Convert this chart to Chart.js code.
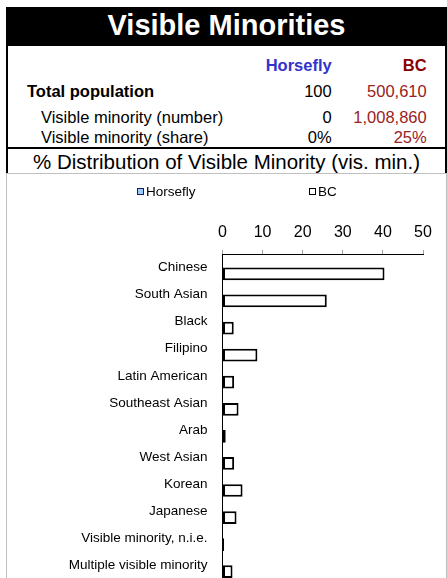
<!DOCTYPE html>
<html>
<head>
<meta charset="utf-8">
<script src="https://cdn.jsdelivr.net/npm/chart.js@4/dist/chart.umd.min.js"></script>
<style>
html,body{margin:0;padding:0;width:447px;height:578px;overflow:hidden;background:#fff;font-family:"Liberation Sans",Arial,sans-serif;}
.abs{position:absolute;white-space:nowrap;line-height:1;}
.b{font-weight:bold;}
.r{text-align:right;}
</style>
</head>
<body>
<!-- title bar -->
<div class="abs" style="left:6px;top:7px;width:441px;height:39px;background:#000;"></div>
<div class="abs b" style="left:6px;top:11.3px;width:441px;text-align:center;color:#fff;font-size:29px;">Visible Minorities</div>
<!-- table frame -->
<div class="abs" style="left:6px;top:46px;width:2px;height:127px;background:#000;"></div>
<div class="abs" style="left:445px;top:46px;width:2px;height:127px;background:#000;"></div>
<div class="abs" style="left:6px;top:147px;width:441px;height:2px;background:#000;"></div>
<!-- table text -->
<div class="abs b r" style="right:115.3px;top:57.3px;font-size:16.5px;color:#3333cc;">Horsefly</div>
<div class="abs b r" style="right:20.3px;top:57.3px;font-size:16.5px;color:#8b0000;">BC</div>

<div class="abs b" style="left:27px;top:83px;font-size:16.5px;color:#000;">Total population</div>
<div class="abs r" style="right:115.3px;top:83px;font-size:16.5px;color:#000;">100</div>
<div class="abs r" style="right:20.3px;top:83px;font-size:16.5px;color:#992222;">500,610</div>

<div class="abs" style="left:41px;top:108.5px;font-size:16.5px;color:#000;">Visible minority (number)</div>
<div class="abs r" style="right:115.3px;top:108.5px;font-size:16.5px;color:#000;">0</div>
<div class="abs r" style="right:20.3px;top:108.5px;font-size:16.5px;color:#992222;">1,008,860</div>

<div class="abs" style="left:41px;top:129.3px;font-size:16.5px;color:#000;">Visible minority (share)</div>
<div class="abs r" style="right:115.3px;top:129.3px;font-size:16.5px;color:#000;">0%</div>
<div class="abs r" style="right:20.3px;top:129.3px;font-size:16.5px;color:#992222;">25%</div>

<div class="abs" style="left:6px;top:152.3px;width:441px;text-align:center;font-size:20.5px;color:#000;">% Distribution of Visible Minority (vis. min.)</div>

<!-- chart box -->
<div class="abs" style="left:6px;top:173px;width:439px;height:440px;border:1px solid #c0c0c0;">
  <canvas id="c" width="439" height="428" style="position:absolute;left:0;top:0;width:439px;height:428px;"></canvas>
</div>

<script>
const categories = ['Chinese','South Asian','Black','Filipino','Latin American','Southeast Asian','Arab','West Asian','Korean','Japanese','Visible minority, n.i.e.','Multiple visible minority'];
const horseflyValues = [0,0,0,0,0,0,0,0,0,0,0,0];
const bcValues = [40.4,26.0,2.8,8.7,2.9,4.0,0.8,2.9,5.0,3.5,0.4,2.5];
const seriesNames = ['Horsefly','BC'];
const xTicks = [0,10,20,30,40,50];

const FONT = '"Liberation Sans", Arial, sans-serif';

const manualLegend = {
  id: 'manualLegend',
  afterDraw(chart, args, opts) {
    const ctx = chart.ctx;
    ctx.save();
    ctx.font = '13.5px ' + FONT;
    ctx.textBaseline = 'middle';
    ctx.textAlign = 'left';
    chart.data.datasets.forEach((ds, i) => {
      const x = opts.boxX[i], y = opts.boxY;
      ctx.fillStyle = ds.backgroundColor;
      ctx.fillRect(x, y, 7, 7);
      ctx.strokeStyle = ds.legendBorder;
      ctx.lineWidth = 1;
      ctx.strokeRect(x + 0.5, y + 0.5, 6, 6);
      ctx.fillStyle = '#000';
      ctx.fillText(ds.label, x + 9, y + 4);
    });
    ctx.restore();
  }
};

new Chart(document.getElementById('c'), {
  type: 'bar',
  data: {
    labels: categories,
    datasets: [
      { label: seriesNames[0], data: horseflyValues, backgroundColor: '#99ccff', borderColor: '#000080', legendBorder: '#1a1a60', borderWidth: 2, borderSkipped: false },
      { label: seriesNames[1], data: bcValues, backgroundColor: '#ffffff', borderColor: '#000000', legendBorder: '#000000', borderWidth: 2, borderSkipped: false }
    ]
  },
  options: {
    indexAxis: 'y',
    responsive: false,
    animation: false,
    devicePixelRatio: 1,
    categoryPercentage: 0.94,
    barPercentage: 1,
    layout: { padding: { top: 34, right: 23, bottom: 0, left: 0 } },
    plugins: {
      legend: { display: false },
      tooltip: { enabled: false },
      manualLegend: { boxX: [130, 302], boxY: 14 }
    },
    scales: {
      x: {
        position: 'top',
        min: 0,
        max: 50,
        afterBuildTicks(scale) { scale.ticks = xTicks.map(v => ({ value: v })); },
        afterFit(scale) { scale.height = 46; },
        ticks: { font: { family: FONT, size: 16 }, color: '#000', padding: 8, maxRotation: 0 },
        grid: { drawOnChartArea: false, drawTicks: true, tickLength: 4, color: '#a0a0a0' },
        border: { display: true, color: '#000', width: 1 }
      },
      y: {
        position: 'left',
        afterFit(scale) { scale.width = 215.5; },
        ticks: { font: { family: FONT, size: 13.5 }, color: '#000', padding: 15, autoSkip: false },
        grid: { display: false, drawTicks: false },
        border: { display: true, color: '#000', width: 1 }
      }
    }
  },
  plugins: [manualLegend]
});
</script>
</body>
</html>
